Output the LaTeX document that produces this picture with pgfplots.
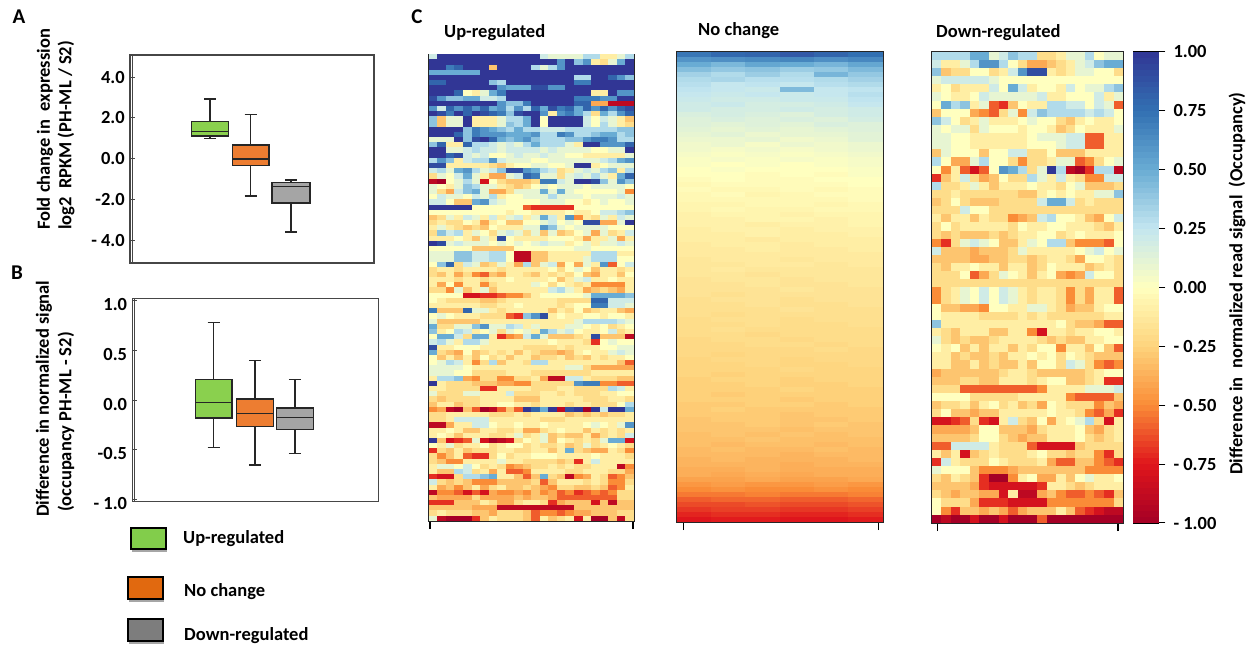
\documentclass[border=0pt]{standalone}
\usepackage{pgfplots}
\usepackage{pgfplotstable}
\usepackage{fontspec}
\setmainfont{Carlito}
\pgfplotsset{compat=1.18}
\usepgfplotslibrary{statistics}
\pgfplotsset{
  colormap={occ}{rgb255=(165,0,38) rgb255=(224,22,28) rgb255=(250,140,55) rgb255=(254,212,125) rgb255=(255,255,191) rgb255=(195,230,240) rgb255=(105,172,212) rgb255=(50,112,178) rgb255=(49,54,149)},
  colormap name=occ,
}
\definecolor{boxgreen}{RGB}{138,208,78}
\definecolor{boxorange}{RGB}{237,125,49}
\definecolor{boxgray}{RGB}{165,165,165}
\definecolor{frameg}{RGB}{70,70,70}
\newcommand{\lf}{\bfseries\fontsize{18.5}{21}\selectfont}
\pgfdeclareplotmark{upcell}{\pgfpathrectangle{\pgfpoint{-4.45pt}{-2.75pt}}{\pgfpoint{8.9pt}{5.5pt}}\pgfusepathqfill}
\pgfdeclareplotmark{nccell}{\pgfpathrectangle{\pgfpoint{-17.4pt}{-2.65pt}}{\pgfpoint{34.8pt}{5.3pt}}\pgfusepathqfill}
\pgfdeclareplotmark{dncell}{\pgfpathrectangle{\pgfpoint{-4.95pt}{-4.2pt}}{\pgfpoint{9.9pt}{8.4pt}}\pgfusepathqfill}
\pgfdeclareplotmark{cbcell}{\pgfpathrectangle{\pgfpoint{-13pt}{-3.1pt}}{\pgfpoint{26pt}{6.2pt}}\pgfusepathqfill}
\pgfplotstableread[header=false]{
2 10 10 10 10 10 10 10 10 10 10 10 10 2 1 1 1 1 3 3 -1 -1 1 3
10 10 10 10 10 10 10 10 10 10 10 10 10 10 10 6 10 4 6 -1 -2 1 5 10
10 10 7 8 10 10 10 -3 10 10 10 10 3 1 3 6 10 10 10 10 10 10 10 10
5 5 5 5 5 5 10 10 10 10 10 10 10 10 10 10 10 10 10 10 10 10 10 10
10 10 10 10 10 10 10 10 10 10 10 10 10 10 10 10 10 3 3 10 10 8 6 4
8 8 10 10 10 10 10 4 3 10 10 10 10 10 10 10 10 7 7 10 10 10 10 10
10 10 10 10 10 10 10 10 6 5 5 5 9 9 6 6 10 10 10 10 10 10 10 10
10 10 10 8 0 -1 1 5 7 10 10 10 10 10 10 10 10 10 10 -1 -1 10 6 6
9 6 4 4 5 5 2 2 3 10 10 10 10 10 10 10 10 7 7 7 6 6 10 10
10 10 10 10 10 10 10 10 6 4 4 7 10 10 10 10 10 8 8 -4 -4 -9 -9 -9
6 2 8 6 8 6 8 5 6 3 6 3 8 5 9 7 8 5 8 6 8 6 8 9
10 9 7 10 8 10 9 8 7 4 9 10 10 6 -1 6 7 5 3 -2 5 3 6 8
4 -3 1 1 10 -1 -1 -1 1 3 3 5 10 0 10 10 10 10 2 0 2 1 -1 -3
4 -3 1 1 10 -1 -1 -1 1 4 3 5 10 0 10 10 10 10 2 0 3 1 -1 -2
10 10 10 10 4 7 6 5 4 3 5 3 3 2 2 2 3 3 3 3 3 3 4 4
10 10 10 8 4 7 6 6 6 5 5 5 6 3 3 7 6 3 3 4 5 5 3 4
1 1 1 10 4 9 10 8 5 4 5 6 4 3 3 3 4 4 6 7 7 6 3 3
4 8 -1 -1 8 3 3 2 1 2 1 3 5 3 3 3 1 -1 10 10 6 6 6 8
10 10 1 1 2 3 2 2 1 2 2 2 2 1 2 1 1 1 1 0 0 1 1 10
10 10 8 9 2 1 2 0 0 1 2 1 1 2 1 1 0 0 -1 -1 -1 -1 -1 1
3 6 4 -1 2 3 3 6 2 1 1 1 0 0 1 1 1 1 1 1 2 3 5 6
9 9 -1 -1 -1 -1 -1 -2 -3 -1 0 0 1 1 0 0 1 10 10 -1 0 1 1 1
2 3 1 5 6 3 1 2 4 9 9 6 5 3 2 -2 -1 1 2 1 3 4 -1 3
-2 1 0 2 5 1 -1 -4 -4 1 2 8 7 1 1 -2 1 2 1 3 1 -1 5 8
-9 -10 0 1 3 1 -8 0 -2 -3 -3 -3 -2 7 7 2 1 10 10 9 4 1 6 4
1 0 -1 1 4 3 1 1 -1 -2 -3 -2 0 1 0 1 1 1 0 1 1 1 1 0
1 -2 -4 2 4 5 1 -4 -4 -2 1 1 1 5 1 5 1 0 0 0 0 0 1 -5
0 2 1 1 0 2 1 3 -1 0 0 1 1 1 3 1 1 1 0 1 1 1 2 1
2 2 0 -3 -3 5 6 2 1 0 0 0 0 1 1 1 0 0 -1 0 1 0 0 1
10 10 10 10 10 0 0 0 0 0 0 -6 -7 -7 -7 -7 -7 0 0 0 0 0 0 0
0 0 0 0 0 0 0 0 0 -1 0 0 -1 -1 -1 -1 0 -1 -1 0 2 2 3 4
-3 -2 1 -1 2 1 -1 2 -1 1 2 -1 1 5 2 -1 6 -5 -1 -2 1 -1 2 1
-2 -1 -2 -2 0 -1 -4 -1 0 -3 -3 0 0 1 2 0 1 0 9 9 -4 -4 1 10
-1 1 -1 -2 -3 -2 -3 0 -1 -1 -1 1 1 6 4 1 0 1 1 1 1 0 0 0
-2 4 2 3 -1 1 0 -2 1 2 1 -2 1 -3 1 -3 -2 0 1 -4 1 -2 -1 2
-1 -1 -1 0 -1 -3 1 -1 9 0 -1 -1 -1 -1 0 0 0 -1 -4 -1 -1 1 -4 -1
10 9 1 2 1 1 1 0 1 0 1 0 1 2 1 1 -1 0 1 -1 1 1 2 1
0 0 0 0 0 -3 -3 -3 -3 -3 0 0 0 0 0 0 0 1 1 0 0 0 0 0
1 1 1 4 4 2 2 3 3 0 -9 -9 -3 -3 -1 -1 -1 -1 -1 3 3 3 -1 -1
1 1 1 4 4 2 2 3 3 0 -9 -9 -3 -3 -1 -1 -1 -1 1 3 3 3 0 0
0 4 8 -2 2 1 -3 -2 1 -1 -4 3 -3 1 2 -4 0 -4 1 -1 6 -6 0 2
-2 -1 -1 -2 -1 -1 -1 -1 -2 -1 -1 -1 -1 -1 0 -2 0 1 0 -3 -1 -1 -2 -1
-2 -3 -1 -4 -2 -5 -6 -3 -4 -1 -1 -2 -3 -1 -2 -1 -2 0 -3 -4 -1 -1 -3 0
-1 -1 -1 -2 -1 -1 -2 -1 -1 0 -1 -1 -1 -1 0 -3 -1 1 2 -1 -1 0 -1 -1
-1 -4 0 -5 -1 -1 -5 -2 -1 -1 -1 -1 1 0 -2 0 -1 -2 -1 -5 -5 -5 -5 -1
-2 -2 -5 1 -3 -1 1 -3 -1 -1 -1 -1 -1 -1 2 3 1 -1 -4 -3 -2 -3 -4 -1
0 0 0 0 -8 -8 -7 -7 -6 -5 -5 -3 -1 0 0 0 0 0 1 5 5 5 5 4
0 -1 -2 -2 -2 -2 -3 -3 -2 -1 -1 -1 -1 -1 -1 -2 -2 -2 -2 8 8 2 2 2
-1 -1 -1 -1 -1 -1 -2 -2 -1 -1 0 -1 -1 -1 -1 -2 -1 0 0 7 7 2 2 1
7 -3 -3 -3 8 1 1 -1 -2 -1 -1 -1 -1 -1 -3 -1 -2 0 -3 -2 -1 -1 -3 -4
0 1 0 -1 -1 -1 -2 -2 -2 -6 -7 4 6 9 -1 0 -1 -1 0 0 -1 0 0 -1
1 -3 -3 -3 -3 -3 -1 -1 -1 -1 -1 -1 -1 -1 -1 -1 -1 1 3 3 3 3 2 1
5 -2 -2 1 1 4 6 1 1 3 2 -1 1 -1 -1 -1 1 1 0 -1 0 -2 -1 0
4 -1 0 3 2 -1 0 1 -2 1 0 1 -1 5 3 1 2 0 -1 -1 0 2 -2 -1
0 5 5 2 -2 5 5 -1 -7 -5 -4 2 5 1 -3 -3 -3 -2 -1 9 -3 -3 -3 -9
2 3 1 -1 3 3 1 -1 -1 -1 -1 -1 -1 -1 0 -1 -1 -1 -2 -7 0 1 0 0
9 -1 -1 0 0 0 -1 -1 -1 -1 -1 -2 -2 -2 -2 -1 -2 -1 -1 -1 0 0 1 1
5 -2 -3 -4 0 -3 -2 -1 -2 -1 -3 -1 -2 -3 -3 -4 -3 -1 0 -1 -1 1 2 1
0 -3 -1 -3 -1 -3 0 -2 -1 -3 -1 -1 -3 -2 -2 -1 -3 -2 -3 -1 -2 -1 -1 0
0 1 3 2 -1 -5 -2 3 -3 -1 -1 -2 3 3 -1 -1 -1 -1 -1 -1 -1 -1 -3 -6
1 1 1 1 0 -1 -1 -1 -1 -1 -1 -1 -1 -1 -1 -1 1 1 -2 -4 -4 -4 -4 -4
1 1 1 0 0 -2 -2 -2 -2 -1 -1 -1 -2 -2 -2 -2 -2 -2 -2 -1 -1 -1 -1 -1
-1 3 3 4 -4 -5 -2 -2 -5 -5 -2 -2 -1 -4 -9 -9 2 2 -1 -2 -2 -2 -3 -3
10 -1 -2 -2 -2 -3 -3 -3 -4 -4 -5 -5 -2 -2 -2 -2 -2 6 7 7 -5 -5 -6 -6
-1 -1 -2 -2 -2 -2 -7 -7 -1 -1 -1 -1 -2 -2 -2 -1 -1 -2 -2 -2 -2 3 2 -1
1 -2 -2 -2 1 1 -1 -1 -1 2 -2 -2 -2 -1 -1 -2 -1 -2 -2 -2 -1 -1 0 0
-2 -3 -2 -2 -2 -2 -1 -1 -1 -1 -3 -3 -3 -1 -1 -1 -1 -1 -2 -2 -2 -1 -1 -2
-3 -1 -1 -3 -2 -2 -1 -1 0 0 -1 -1 -2 -1 -1 -1 -2 -1 -1 -2 -2 -2 0 3
-5 -4 -9 -10 -3 -6 -10 -9 -6 -3 -6 10 8 5 10 -9 9 10 -10 10 2 10 10 5
-2 -2 -1 -1 -1 -1 -1 -2 -2 -2 -1 -2 -1 -1 -1 -1 -3 -2 -3 -2 -3 -2 -2 -1
-2 -2 -1 2 2 2 2 -1 -1 -1 -1 -1 -1 -2 -2 -2 -1 -1 -1 -1 -1 -1 -1 -1
-9 -9 -4 -1 -1 2 2 0 -1 -1 0 -1 -1 0 -1 -1 -1 -1 0 1 0 -1 1 6
-1 -1 0 -1 -3 -3 -1 -1 -2 -2 -1 -4 -4 -2 -1 0 -1 -1 -3 -1 -2 -1 -2 -1
-1 0 -1 -3 -1 -1 -1 -2 -2 -1 1 -2 -1 1 -3 -2 -3 -3 -1 -4 -2 -1 -2 2
10 -3 -8 -7 -6 1 -8 -10 -9 -8 -2 0 -1 1 -3 0 -1 -2 -1 -2 1 5 5 -8
0 -1 1 -2 -1 -1 0 -2 -1 0 0 -2 -1 -2 -2 -1 -3 -2 1 -2 -1 0 -1 -2
-7 -2 -3 -1 -3 -2 -2 -2 -1 -1 -2 -2 -1 -1 -3 -1 5 -2 -3 -4 -4 -1 -2 -5
-2 -5 -3 -1 -6 -7 -7 -2 0 -2 -1 -1 0 0 0 -1 -1 -1 -1 0 -1 -1 -1 -2
-2 -3 -5 -5 -1 -1 -1 -1 1 -1 -1 -2 -2 -2 -2 -3 -2 -7 -1 2 -1 -1 -1 -1
-1 1 1 0 2 0 -2 -1 -2 -5 -4 -3 -2 -2 -1 -2 -1 -2 -2 -1 -1 -1 -9 -5
-1 -3 -3 3 2 -2 -1 -4 -1 -6 -6 -5 -1 -1 -1 -1 -2 -2 -1 -1 -1 -2 -2 -4
-7 -8 -8 -2 3 3 4 5 -1 -1 -3 -6 -3 5 -2 -3 -9 -5 -4 -1 -2 -6 -5 -3
2 -2 -3 -2 -3 -5 -5 -5 -3 -3 -3 -3 -2 -6 -3 -1 -1 -1 -2 -1 -2 -5 -5 -2
-1 -4 -3 -5 -3 -1 -4 -2 -1 -3 -3 -2 -3 -4 -5 -2 -2 -3 -3 -2 -3 -6 -5 -1
-9 -5 -5 -6 -8 -6 -8 -4 -5 -5 -4 -5 -3 -5 -4 -6 -5 -7 -6 -5 -6 -5 -2 -2
-3 -4 -4 -4 -4 -2 -4 -4 -4 -4 -3 -4 -3 -3 -4 -6 -6 -6 -6 -6 -6 -6 -2 -2
-7 -7 -7 -3 -3 -3 -1 -2 -4 -4 -2 -1 -1 -2 -7 -4 -3 -3 -3 -8 -3 -9 -3 -3
-3 -3 -3 -3 -3 -4 -4 -4 -9 -9 -9 -9 -9 -9 -9 -9 -9 -3 -3 -3 -3 -3 -3 -3
-2 -1 -2 -2 -2 -3 -3 -4 -2 -2 -2 -3 -6 -5 -5 -6 -5 -4 -4 -3 -3 -3 -2 -2
1 -9 -10 -10 -10 -7 -3 -1 -2 -2 -2 -3 -6 -1 -3 -2 -1 -8 -1 -10 -10 -3 -9 -2
-3 -3 -10 -10 -10 -10 -10 -10 -10 -3 -2 -3 -2 -3 -2 -3 -2 -3 -2 -3 -2 -3 -2 -3
}\upmap
\pgfplotstableread[header=false]{
72 78 80 85 80 75
60 62 64 66 62 65
50 45 52 50 46 52
42 38 40 36 38 44
34 30 36 30 46 38
30 32 28 28 30 34
28 24 26 24 28 30
26 24 22 44 24 26
24 22 24 22 24 28
22 20 20 22 22 26
20 22 18 18 20 24
20 18 18 20 18 20
16 18 16 14 18 20
14 16 14 16 14 18
14 12 14 12 16 14
12 10 12 10 12 14
10 12 8 10 10 12
8 8 10 6 8 12
6 8 4 8 6 8
6 4 6 4 6 8
4 2 4 2 4 6
2 4 2 4 2 4
2 0 2 0 2 4
0 2 0 0 0 2
0 0 -2 0 -2 2
-2 0 -2 -2 0 0
-4 -2 -2 -2 -2 0
-2 -4 -4 -2 -4 -2
-4 -2 -6 -4 -2 -2
-4 -4 -4 -4 -4 -2
-6 -6 -4 -4 -6 -4
-6 -4 -6 -6 -4 -4
-8 -6 -6 -8 -6 -6
-8 -8 -6 -6 -8 -6
-8 -8 -10 -8 -8 -6
-10 -8 -8 -10 -8 -8
-10 -10 -8 -10 -10 -8
-10 -10 -12 -10 -10 -10
-12 -10 -10 -12 -10 -10
-12 -12 -10 -12 -12 -10
-12 -12 -12 -12 -12 -12
-14 -12 -12 -14 -12 -12
-14 -14 -12 -12 -14 -12
-14 -12 -14 -14 -14 -14
-14 -14 -16 -14 -14 -14
-16 -14 -14 -16 -14 -14
-16 -16 -14 -16 -16 -14
-16 -16 -16 -14 -16 -16
-16 -18 -16 -16 -16 -16
-18 -16 -16 -18 -16 -16
-18 -18 -16 -18 -18 -16
-18 -18 -18 -16 -18 -18
-18 -20 -18 -18 -18 -18
-20 -18 -18 -20 -18 -18
-20 -20 -18 -20 -20 -18
-20 -18 -20 -20 -20 -20
-20 -20 -22 -20 -20 -20
-22 -20 -20 -22 -20 -20
-22 -22 -20 -20 -22 -20
-22 -22 -22 -22 -20 -22
-22 -24 -22 -22 -22 -22
-24 -22 -22 -24 -22 -22
-24 -24 -22 -24 -24 -22
-24 -24 -24 -22 -24 -24
-24 -26 -24 -24 -24 -24
-26 -24 -24 -26 -24 -24
-26 -26 -24 -26 -26 -24
-26 -26 -26 -24 -26 -26
-26 -28 -26 -26 -26 -26
-26 -26 -26 -28 -26 -26
-28 -28 -26 -26 -28 -26
-28 -26 -28 -28 -28 -28
-28 -28 -28 -30 -28 -28
-30 -28 -28 -30 -30 -28
-30 -30 -28 -30 -28 -30
-30 -30 -30 -32 -30 -30
-32 -30 -32 -30 -32 -30
-32 -32 -30 -32 -32 -32
-32 -34 -32 -32 -34 -32
-34 -32 -34 -34 -32 -34
-34 -34 -34 -36 -34 -34
-36 -34 -36 -36 -36 -34
-36 -36 -36 -38 -36 -36
-38 -38 -36 -38 -38 -38
-38 -40 -38 -40 -38 -38
-42 -42 -40 -42 -42 -40
-46 -44 -46 -46 -44 -46
-50 -48 -50 -50 -48 -50
-54 -54 -52 -54 -54 -52
-60 -58 -58 -60 -60 -58
-64 -64 -62 -64 -64 -62
-68 -66 -66 -68 -68 -66
-72 -70 -70 -72 -72 -70
-76 -74 -74 -76 -76 -74
}\ncmap
\pgfplotstableread[header=false]{
3 3 3 3 5 5 1 2 4 3 3 -2 -2 -1 1 1 3 0 1 1
2 -1 -1 1 3 6 6 3 0 -2 -4 -4 -3 -2 -1 1 2 4 5 5
4 -3 -2 -2 0 0 -2 -1 2 6 9 9 -1 -2 -1 1 1 0 0 -2
1 2 2 2 2 2 1 0 0 0 0 0 0 0 0 0 0 0 0 0
-1 0 -2 -1 -1 -1 2 0 5 2 -1 0 0 -1 2 0 1 1 3 4
1 0 -1 -1 0 2 1 1 1 1 1 2 -1 -1 0 0 0 2 -1 1
0 5 3 4 -1 1 -6 -7 -3 0 -1 -1 3 3 2 2 0 2 1 -6
-3 0 0 0 -4 -5 -6 -2 1 -5 2 4 3 3 3 3 2 3 2 0
4 2 0 -2 -1 1 -1 -1 -1 0 1 0 0 -2 -3 -1 0 -1 -1 0
1 0 1 1 -2 1 0 0 0 -1 0 0 -1 -3 -2 0 -1 -1 -1 1
1 1 0 0 -1 -1 -1 -1 -1 -1 0 1 1 1 2 2 -6 -6 -1 -1
1 1 0 0 -1 -1 -1 -1 -1 -1 0 0 0 1 2 2 -6 -6 -1 -1
-3 1 0 0 0 -3 0 0 2 2 -2 -2 0 -3 -3 -3 -1 -1 -1 -1
3 0 -4 -4 1 3 0 0 -2 -5 -2 -2 -1 1 1 -6 -5 -2 0 1
0 -5 -1 -6 -8 -6 0 6 5 3 -2 1 10 3 -9 -10 -7 3 3 -9
-7 -3 -1 2 -2 -4 -3 0 -2 -2 3 1 -1 2 -1 -2 -5 -5 2 2
3 -2 -2 -1 1 -1 -3 -1 -1 -1 0 -1 -1 -2 0 1 -3 -3 -3 -2
-2 -2 -1 -2 -2 -2 -2 -2 -2 -3 -3 -1 0 -1 0 -1 -1 1 1 4
-3 -2 0 -2 -3 -3 -3 -2 -2 -2 -2 2 5 5 2 -2 -1 -2 -2 -2
-2 -2 -2 2 0 0 -2 -2 -2 -2 -2 -2 -2 -2 -2 -2 -2 -2 -2 -2
-1 -3 -1 -1 -3 -1 -2 -2 -5 -4 -3 2 3 0 0 -1 -3 -4 0 2
-2 0 -2 -1 -1 -1 -1 -1 -2 0 -1 -1 0 0 -1 -1 -1 -2 -3 -1
-2 -3 -2 -3 -3 -3 -2 -3 -2 -1 -1 0 0 -2 -1 0 -1 -1 -1 0
-5 -7 -2 1 2 1 0 -3 -3 -1 1 0 3 3 -3 -5 -5 -5 -6 0
2 -3 -3 -3 -4 -3 -3 -3 -2 1 -1 -1 -1 -1 -1 0 1 2 0 1
-3 -3 -3 -3 -4 -4 -3 -3 -2 -2 -3 -2 -1 -1 -2 -4 0 0 -1 -2
-2 -3 -1 -1 0 -1 -1 -3 -1 -1 -3 -2 0 -1 -1 -1 -3 -2 -1 -2
-2 -2 -2 0 -6 -4 -2 1 0 -1 -3 -1 0 -4 -5 -4 2 0 0 -2
-2 -2 -2 -2 -2 -2 -2 -2 -2 -2 -2 -2 -2 -2 -2 -2 -2 -2 -2 -2
-5 -2 -1 1 0 2 0 2 1 -1 -2 -1 -1 -2 -5 -2 -4 -1 -1 -6
-5 -2 -1 1 0 2 0 2 1 -1 -2 -1 -1 -2 -5 -2 -4 -1 -1 -6
0 -3 -3 -4 -4 -5 0 0 -1 -1 1 1 -1 -2 -4 -3 -3 -1 0 0
0 -1 -1 -1 -1 -2 -2 -2 -2 -1 -2 -1 -2 -2 -2 -2 -2 -2 -1 -1
4 -1 -1 -1 -1 -1 -1 -1 -1 -1 -1 -1 -1 0 -2 -3 -3 -4 -6 -6
-1 -2 -3 -1 -1 -1 -3 -3 -1 -1 -5 -8 -1 -1 -2 -1 -1 0 0 -1
1 -2 -3 -2 -3 -3 -2 -1 -1 -1 -1 -2 -3 -2 -3 -3 -1 -1 0 0
0 -1 0 -3 -1 -3 -1 -1 -3 -1 -2 0 0 -5 -1 -1 -3 0 -3 -6
-1 -1 -3 -2 -3 -3 -2 -3 -1 -1 0 -1 0 -2 0 -1 -2 -3 -3 -3
-1 -1 -3 -3 -1 -3 -2 -3 -3 -1 -3 0 0 -2 2 1 -2 -5 -6 -5
-4 -3 -3 -3 -3 -3 -3 -2 -1 -1 -2 -3 -3 -3 -3 -3 -2 -1 0 0
-3 -3 -3 -2 -2 -3 -3 -1 -1 -1 -2 -1 0 0 -3 -3 -2 -1 -7 -7
-2 -2 -2 -6 -6 -6 -6 -6 -6 -6 -6 -5 -1 -1 -1 -1 1 1 1 2
0 0 0 0 -2 -2 -2 -2 -2 -1 -1 -1 -1 -1 -5 -6 -6 -6 -6 -3
-3 -2 -2 -1 -3 -1 0 -2 -1 -3 -2 -4 0 -1 -2 -2 -2 -5 -3 -4
-2 0 -3 -3 -4 -3 -3 -1 -1 -1 -1 -1 0 -1 -1 -2 -5 -6 -4 -7
-8 -8 -7 -6 -2 -7 -8 -1 2 -2 -3 0 -4 -1 0 1 3 -2 -8 -1
-4 -4 -4 -4 -3 0 0 -3 -3 -3 -4 -2 -1 -1 -1 0 -3 -4 -2 -1
-3 -3 -3 -3 -2 0 0 -2 -3 -4 -3 -3 -1 -1 -1 0 -2 -3 -2 -1
-6 -6 2 2 2 2 -1 -2 -2 -2 -6 -8 -8 -8 -8 -3 -2 -2 -2 -2
-1 -3 -1 -8 -3 -2 -1 -2 -2 -2 -1 0 -2 -2 -3 -2 -2 -5 -7 -2
-7 2 -1 -2 -2 -2 0 -1 -2 -2 -2 -1 -4 -6 -6 -3 -3 -5 -6 -7
1 0 0 0 -3 -5 -5 -5 -4 -3 -3 -3 -3 -3 -3 -3 -5 -5 -5 -5
-2 -3 -1 -2 -3 -7 -10 -10 -5 -1 0 -4 -4 -1 -3 0 1 -1 -1 0
-3 -3 -3 -3 -4 -7 -8 -8 -8 -8 -8 -7 -1 -1 -2 -3 -2 -1 -1 -1
-2 -3 -4 -3 -3 -4 -4 -8 -1 -9 -9 -4 -3 -5 -6 -6 -5 -6 -7 -3
0 -2 -2 -2 -4 -7 -7 -7 -8 -8 -8 -8 -5 -5 -5 -5 -5 -5 -5 -2
0 -5 -7 -3 -3 -4 -3 -4 -6 -4 -3 -3 -3 -1 -3 -6 -7 -8 -9 -9
-10 -9 -10 -10 -8 -10 -10 -8 -10 -10 -10 -6 -10 -10 -10 -10 -10 -10 -10 -10
}\dnmap
\pgfplotstableread[header=false]{
-9.875
-9.625
-9.375
-9.125
-8.875
-8.625
-8.375
-8.125
-7.875
-7.625
-7.375
-7.125
-6.875
-6.625
-6.375
-6.125
-5.875
-5.625
-5.375
-5.125
-4.875
-4.625
-4.375
-4.125
-3.875
-3.625
-3.375
-3.125
-2.875
-2.625
-2.375
-2.125
-1.875
-1.625
-1.375
-1.125
-0.875
-0.625
-0.375
-0.125
0.125
0.375
0.625
0.875
1.125
1.375
1.625
1.875
2.125
2.375
2.625
2.875
3.125
3.375
3.625
3.875
4.125
4.375
4.625
4.875
5.125
5.375
5.625
5.875
6.125
6.375
6.625
6.875
7.125
7.375
7.625
7.875
8.125
8.375
8.625
8.875
9.125
9.375
9.625
9.875
}\cbmap
\pgfplotsset{
  panel/.style={scale only axis, anchor=south west, xtick=\empty, axis line style={frameg,line width=1.2pt},
    tick align=inside, major tick length=5pt, ytick style={frameg,line width=0.9pt}, ytick pos=left,
    boxplot/draw direction=y,
    ticklabel style={font=\lf,inner sep=0pt}, yticklabel style={xshift=-5pt}, clip=false},
  heat/.style={scale only axis, anchor=south west, ytick=\empty, xticklabels={}, axis on top,
    tick align=outside, major tick length=8pt, xtick style={black,line width=1.2pt}, xtick pos=bottom,
    axis line style={black!85,line width=1.2pt}, point meta min=-10, point meta max=10},
}
\begin{document}
\begin{tikzpicture}
\useasboundingbox (0,0) rectangle (1249pt,645pt);
% Panel A
\begin{axis}[panel, at={(130pt,382pt)}, width=244pt, height=208pt, xmin=13, xmax=37.4, ymin=-5.11, ymax=5.08,
  ytick={-4,-2,0,2,4}, yticklabels={- 4.0,-2.0,0.0,2.0,4.0}]
\addplot[boxplot prepared={draw position=21, box extend=3.66, whisker extend=1.2, lower whisker=1.0, lower quartile=1.1, median=1.34, upper quartile=1.81, upper whisker=2.93}, draw=black!85, fill=boxgreen, line width=1.5pt] coordinates {};
\addplot[boxplot prepared={draw position=25.07, box extend=3.66, whisker extend=1.2, lower whisker=-1.83, lower quartile=-0.34, median=-0.01, upper quartile=0.66, upper whisker=2.16}, draw=black!85, fill=boxorange, line width=1.5pt] coordinates {};
\addplot[boxplot prepared={draw position=29.1, box extend=3.76, whisker extend=1.2, lower whisker=-3.58, lower quartile=-2.16, median=-1.37, upper quartile=-1.16, upper whisker=-1.04}, draw=black!85, fill=boxgray, line width=1.5pt] coordinates {};
\end{axis}
\draw[frameg,line width=1pt] (132pt,382pt) -- (132pt,590pt);
% Panel B
\begin{axis}[panel, at={(132.3pt,143.3pt)}, width=246pt, height=203.4pt, xmin=13.23, xmax=37.83, ymin=-1.024, ymax=1.024,
  ytick={-1,-0.5,0,0.5,1}, yticklabels={- 1.0,-0.5,0.0,0.5,1.0}, yticklabel style={yshift=-4pt}]
\addplot[boxplot prepared={draw position=21.37, box extend=3.67, whisker extend=1.2, lower whisker=-0.48, lower quartile=-0.181, median=-0.023, upper quartile=0.208, upper whisker=0.782}, draw=black!85, fill=boxgreen, line width=1.5pt] coordinates {};
\addplot[boxplot prepared={draw position=25.5, box extend=3.67, whisker extend=1.2, lower whisker=-0.655, lower quartile=-0.265, median=-0.134, upper quartile=0.01, upper whisker=0.396}, draw=black!85, fill=boxorange, line width=1.5pt] coordinates {};
\addplot[boxplot prepared={draw position=29.48, box extend=3.7, whisker extend=1.2, lower whisker=-0.537, lower quartile=-0.295, median=-0.178, upper quartile=-0.08, upper whisker=0.208}, draw=black!85, fill=boxgray, line width=1.5pt] coordinates {};
\end{axis}
\draw[frameg,line width=1pt] (134.3pt,143.3pt) -- (134.3pt,346.7pt);
% Up map
\begin{axis}[heat, at={(429pt,124pt)}, width=205pt, height=466.7pt, xmin=-0.5, xmax=23.5, ymin=-89.5, ymax=0.5, xtick={-0.38,23.39}]
\pgfplotsinvokeforeach{0,...,23}{
\addplot[scatter, only marks, mark=upcell, scatter src=explicit] table[x expr=#1, y expr=-\coordindex, meta index=#1] {\upmap};
}
\end{axis}
% No-change map
\begin{axis}[heat, at={(677pt,123pt)}, width=206pt, height=470pt, xmin=-0.5, xmax=5.5, ymin=-93.5, ymax=0.5, point meta min=-100, point meta max=100, xtick={-0.3,5.37}]
\pgfplotsinvokeforeach{0,...,5}{
\addplot[scatter, only marks, mark=nccell, scatter src=explicit] table[x expr=#1, y expr=-\coordindex, meta index=#1] {\ncmap};
}
\end{axis}
% Down map
\begin{axis}[heat, at={(931.7pt,122pt)}, width=191.6pt, height=471pt, xmin=-0.5, xmax=19.5, ymin=-57.5, ymax=0.5, xtick={0.09,18.95}]
\pgfplotsinvokeforeach{0,...,19}{
\addplot[scatter, only marks, mark=dncell, scatter src=explicit] table[x expr=#1, y expr=-\coordindex, meta index=#1] {\dnmap};
}
\end{axis}
% Colour scale
\begin{axis}[scale only axis, anchor=south west, at={(1133.3pt,122pt)}, width=25pt, height=471pt, xmin=-0.5, xmax=0.5, ymin=-10, ymax=10,
  xtick=\empty, axis on top, axis line style={black,line width=1.1pt}, point meta min=-10, point meta max=10,
  ytick={-10,-7.5,-5,-2.5,0,2.5,5,7.5,10}, yticklabels={- 1.00,- 0.75,- 0.50,- 0.25,0.00,0.25,0.50,0.75,1.00},
  ytick pos=right, yticklabel pos=right, tick align=outside, major tick length=7pt, ytick style={black,line width=1pt},
  yticklabel style={font=\lf,anchor=west,inner sep=0pt,xshift=8pt}]
\addplot[scatter, only marks, mark=cbcell, scatter src=explicit] table[x expr=0, y index=0, meta index=0] {\cbmap};
\end{axis}
% Labels
\begin{scope}[every node/.style={font=\lf,inner sep=0pt}]
\node at (19pt,628pt) {\fontsize{21}{23}\selectfont A};
\node at (17pt,372pt) {\fontsize{21}{23}\selectfont B};
\node at (417pt,628pt) {\fontsize{21}{23}\selectfont C};
\node[rotate=90,anchor=west] at (45pt,415pt) {Fold change in\ \ expression};
\node[rotate=90,anchor=west] at (66pt,415pt) {log2\ \ RPKM (PH-ML / S2)};
\node[rotate=90,anchor=west] at (44pt,128pt) {Difference in normalized signal};
\node[rotate=90,anchor=west] at (66pt,133pt) {(occupancy PH-ML - S2)};
\node[anchor=west] at (444pt,612pt) {Up-regulated};
\node[anchor=west] at (698pt,614pt) {No change};
\node[anchor=west] at (936pt,612pt) {Down-regulated};
\node[rotate=90,anchor=west] at (1237pt,170pt) {Difference in\ \ normalized read signal\ \ (Occupancy)};
\node[anchor=west] at (183pt,106pt) {Up-regulated};
\node[anchor=west] at (184pt,53pt) {No change};
\node[anchor=west] at (184pt,9pt) {Down-regulated};
\end{scope}
% Legend swatches
\fill[black!35] (131.7pt,93.5pt) rectangle (166.7pt,115.3pt);
\draw[black,line width=2pt,fill={rgb,255:red,130;green,205;blue,75}] (130.7pt,96pt) rectangle (165.7pt,117.3pt);
\fill[black!35] (128.7pt,43.2pt) rectangle (164.3pt,65.7pt);
\draw[black,line width=2pt,fill={rgb,255:red,225;green,105;blue,15}] (127.7pt,45.7pt) rectangle (163.3pt,67.7pt);
\fill[black!35] (128.7pt,1.5pt) rectangle (164.3pt,23.7pt);
\draw[black,line width=2pt,fill={rgb,255:red,125;green,125;blue,125}] (127.7pt,4pt) rectangle (163.3pt,25.7pt);
\end{tikzpicture}
\end{document}
